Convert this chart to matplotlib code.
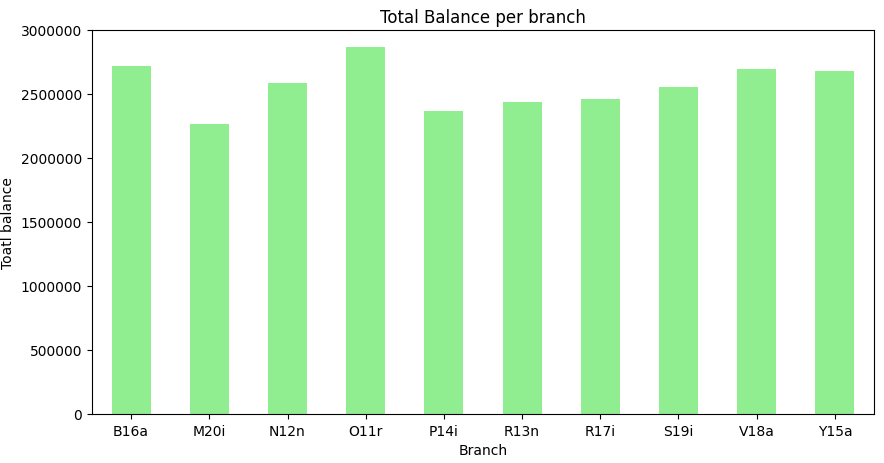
import matplotlib
matplotlib.use("Agg")
import matplotlib.pyplot as plt

branches = ["B16a", "M20i", "N12n", "O11r", "P14i", "R13n", "R17i", "S19i", "V18a", "Y15a"]
balances = [2719000, 2266000, 2586000, 2867000, 2367000, 2437000, 2461000, 2555000, 2695000, 2680000]

fig = plt.figure(figsize=(8.84, 4.64), dpi=100)
ax = fig.add_axes([92/884, 1-415/464, (874-92)/884, (415-31)/464])
x = range(len(branches))
ax.bar(x, balances, width=0.5, color="lightgreen")
ax.set_xticks(list(x))
ax.set_xticklabels(branches)
ax.set_xlim(-0.5, len(branches)-0.5)
ax.set_ylim(0, 3000000)
ax.ticklabel_format(axis="y", style="plain")
ax.set_title("Total Balance per branch")
ax.set_xlabel("Branch")
ax.set_ylabel("Toatl balance")
fig.savefig("out.png", dpi=100)
